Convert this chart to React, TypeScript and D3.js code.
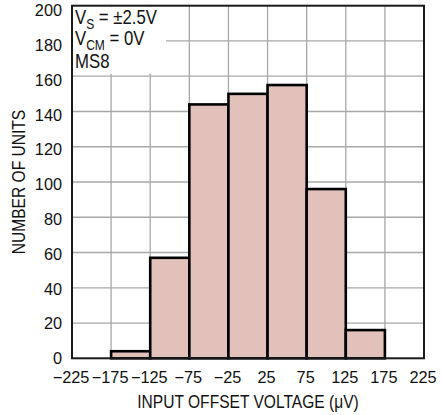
import { useEffect, useRef } from "react";
import * as d3 from "d3";

// histogram bins: centre of each 50uV bin and how many units fell in it
const binCenters = [-200, -150, -100, -50, 0, 50, 100, 150, 200];
const unitCounts = [0, 4, 57, 144, 150, 155, 96, 16, 0];
const xTicks = [-225, -175, -125, -75, -25, 25, 75, 125, 175, 225];
const yTicks = [0, 20, 40, 60, 80, 100, 120, 140, 160, 180, 200];

const BIN_WIDTH = 50;
const W = 442;
const H = 415;
const FONT = "'Liberation Sans', Arial, Helvetica, sans-serif";
// no narrow face installed, so squeeze the regular one horizontally
const NARROW = 0.82;

export default function App(): JSX.Element {
  const svgRef = useRef<SVGSVGElement | null>(null);

  useEffect(() => {
    if (!svgRef.current) return;
    document.body.style.margin = "0";

    const x = d3.scaleLinear().domain([-225, 225]).range([72, 424]);
    const y = d3.scaleLinear().domain([0, 200]).range([358.3, 5.7]);
    // the printed labels sit a touch lower than their ticks near the top
    const yLabel = d3.scaleLinear().domain([0, 200]).range([358.3, 10.5]);

    const svg = d3.select(svgRef.current);
    svg.selectAll("*").remove();

    svg.append("rect").attr("width", W).attr("height", H).attr("fill", "#fff");

    // grid
    const grid = svg.append("g").attr("stroke", "#a8a8a8").attr("stroke-width", 1.3);
    grid
      .selectAll("line.v")
      .data(xTicks.slice(1, -1))
      .join("line")
      .attr("class", "v")
      .attr("x1", (d) => x(d))
      .attr("x2", (d) => x(d))
      .attr("y1", y(0))
      .attr("y2", y(200));
    grid
      .selectAll("line.h")
      .data(yTicks.slice(1, -1))
      .join("line")
      .attr("class", "h")
      .attr("x1", x(-225))
      .attr("x2", x(225))
      .attr("y1", (d) => y(d))
      .attr("y2", (d) => y(d));

    // bars
    const bins = binCenters
      .map((c, i) => ({ c, n: unitCounts[i] }))
      .filter((b) => b.n > 0);
    svg
      .append("g")
      .selectAll("rect")
      .data(bins)
      .join("rect")
      .attr("x", (d) => x(d.c - BIN_WIDTH / 2))
      .attr("width", (d) => x(d.c + BIN_WIDTH / 2) - x(d.c - BIN_WIDTH / 2))
      .attr("y", (d) => y(d.n))
      .attr("height", (d) => y(0) - y(d.n))
      .attr("fill", "#e3c1bb")
      .attr("stroke", "#000")
      .attr("stroke-width", 2.6);

    // annotation box masks the grid in the top-left corner
    svg
      .append("rect")
      .attr("x", x(-225) + 1)
      .attr("y", y(200) + 1)
      .attr("width", 93)
      .attr("height", 67)
      .attr("fill", "#fff");

    const note = svg
      .append("text")
      .attr("transform", `translate(75,0) scale(0.86,1)`)
      .attr("font-family", FONT)
      .attr("font-size", 19.5)
      .attr("fill", "#111");
    const l1 = note.append("tspan").attr("x", 0).attr("y", 24.5);
    l1.append("tspan").text("V");
    l1.append("tspan").attr("font-size", 14).attr("dy", 4.5).text("S");
    l1.append("tspan").attr("dy", -4.5).text(" = ±2.5V");
    const l2 = note.append("tspan").attr("x", 0).attr("y", 45.5);
    l2.append("tspan").text("V");
    l2.append("tspan").attr("font-size", 14).attr("dy", 4.5).text("CM");
    l2.append("tspan").attr("dy", -4.5).text(" = 0V");
    note.append("tspan").attr("x", 0).attr("y", 68).text("MS8");

    // frame
    svg
      .append("rect")
      .attr("x", x(-225))
      .attr("y", y(200))
      .attr("width", x(225) - x(-225))
      .attr("height", y(0) - y(200))
      .attr("fill", "none")
      .attr("stroke", "#1a1a1a")
      .attr("stroke-width", 2);

    // tick labels
    svg
      .append("g")
      .attr("font-family", FONT)
      .attr("font-size", 16.3)
      .attr("fill", "#111")
      .attr("text-anchor", "middle")
      .selectAll("text")
      .data(xTicks)
      .join("text")
      .attr("x", (d) => x(d) - 1)
      .attr("y", 382.5)
      .text((d) => (d < 0 ? `\u2212${-d}` : `${d}`));

    svg
      .append("g")
      .attr("font-family", FONT)
      .attr("font-size", 16.3)
      .attr("fill", "#111")
      .attr("text-anchor", "end")
      .selectAll("text")
      .data(yTicks)
      .join("text")
      .attr("x", 62)
      .attr("y", (d) => yLabel(d))
      .attr("dy", "0.36em")
      .text((d) => `${d}`);

    // axis titles
    svg
      .append("text")
      .attr("font-family", FONT)
      .attr("font-size", 19)
      .attr("fill", "#111")
      .attr("text-anchor", "middle")
      .attr("transform", `translate(${(x(-225) + x(225)) / 2}, 407.5) scale(${NARROW},1)`)
      .text("INPUT OFFSET VOLTAGE (\u03bcV)");

    svg
      .append("text")
      .attr("font-family", FONT)
      .attr("font-size", 19)
      .attr("fill", "#111")
      .attr("text-anchor", "middle")
      .attr(
        "transform",
        `translate(24.5, ${(y(0) + y(200)) / 2}) rotate(-90) scale(${NARROW},1)`,
      )
      .text("NUMBER OF UNITS");
  }, []);

  return <svg ref={svgRef} width={W} height={H} style={{ display: "block" }} />;
}
